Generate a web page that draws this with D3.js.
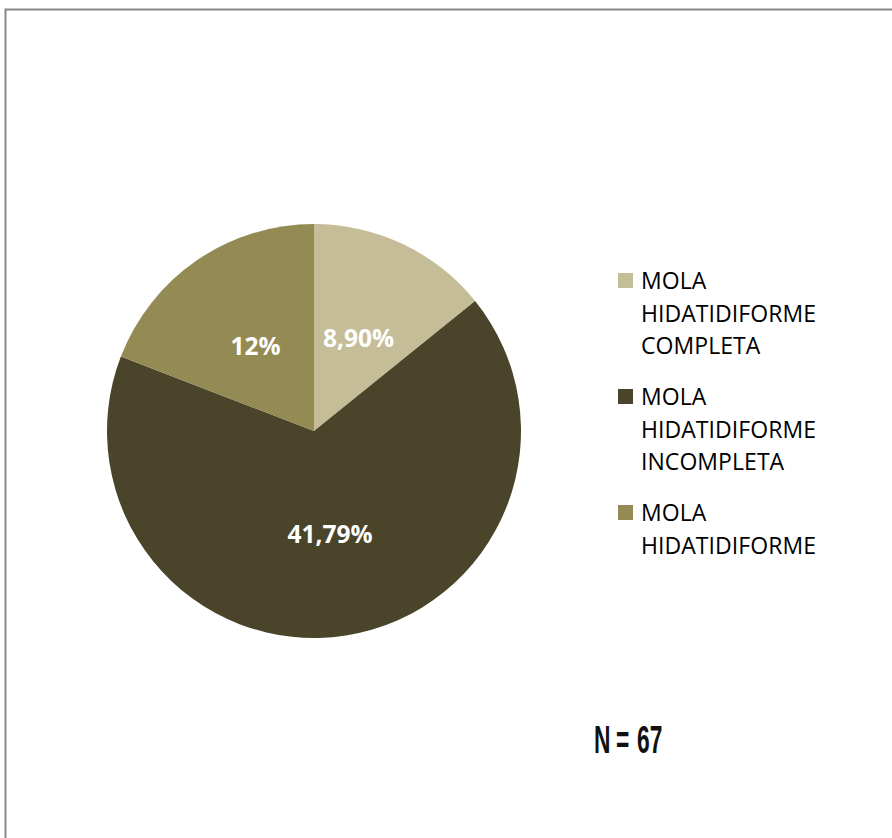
<!DOCTYPE html>
<html>
<head>
<meta charset="utf-8">
<script src="https://cdn.jsdelivr.net/npm/d3@7"></script>
<style>
  html, body { margin: 0; padding: 0; background: #fff; }
  svg { display: block; }
</style>
</head>
<body>
<svg id="chart" width="892" height="838"></svg>
<script>
// Tipos de mola hidatidiforme
const categories = [
  "MOLA HIDATIDIFORME COMPLETA",
  "MOLA HIDATIDIFORME INCOMPLETA",
  "MOLA HIDATIDIFORME"
];
const values = [8.90, 41.79, 12];
const valueLabels = ["8,90%", "41,79%", "12%"];
const legendLines = [
  ["MOLA", "HIDATIDIFORME", "COMPLETA"],
  ["MOLA", "HIDATIDIFORME", "INCOMPLETA"],
  ["MOLA", "HIDATIDIFORME"]
];
const colors = ["#C4BD97", "#4A442A", "#948A54"];
const noteParts = ["N", "=", "67"];

const svg = d3.select("#chart");

// chart frame
svg.append("path")
  .attr("d", "M5.5,838 V9.5 H892")
  .attr("fill", "none")
  .attr("stroke", "#878787")
  .attr("stroke-width", 2);

const cx = 314, cy = 431, r = 207;

const pie = d3.pie().sort(null).value(d => d);
const arc = d3.arc().innerRadius(0).outerRadius(r);

const g = svg.append("g").attr("transform", `translate(${cx},${cy})`);
const arcs = pie(values);

g.selectAll("path.slice")
  .data(arcs)
  .join("path")
  .attr("class", "slice")
  .attr("d", arc)
  .attr("fill", (d, i) => colors[i]);

g.selectAll("text.val")
  .data(arcs)
  .join("text")
  .attr("class", "val")
  .attr("transform", d => `translate(${arc.centroid(d)})`)
  .attr("text-anchor", "middle")
  .attr("dominant-baseline", "central")
  .attr("font-family", "'Open Sans', Lato, sans-serif")
  .attr("font-weight", "bold")
  .attr("font-size", 24.5)
  .attr("fill", "#fff")
  .text((d, i) => valueLabels[i]);

// legend
const legendFont = "'Open Sans', Lato, sans-serif";
const legendSize = 23;
// fit the widest word to its column
const probe = svg.append("text")
  .attr("font-family", legendFont)
  .attr("font-size", legendSize)
  .text("HIDATIDIFORME");
const probeW = probe.node().getComputedTextLength();
probe.remove();
const spacing = (175 - probeW) / 13;

const legend = svg.append("g").attr("transform", "translate(618,0)");
const legendBaselines = [289, 405, 521];
const lineGap = 32.5;
categories.forEach((c, i) => {
  const item = legend.append("g").attr("transform", `translate(0,${legendBaselines[i]})`);
  item.append("rect")
    .attr("x", 0).attr("y", -16)
    .attr("width", 15).attr("height", 15)
    .attr("fill", colors[i]);
  legendLines[i].forEach((ln, j) => {
    item.append("text")
      .attr("x", 23)
      .attr("y", j * lineGap)
      .attr("font-family", legendFont)
      .attr("font-size", legendSize)
      .attr("letter-spacing", spacing)
      .attr("fill", "#000")
      .text(ln);
  });
});

// sample size, set in a condensed face
const sx = 0.6;
const noteX = [594, 616, 637];
svg.append("text")
  .attr("transform", `translate(0,753) scale(${sx},1)`)
  .attr("font-family", "'Liberation Sans', Arial, sans-serif")
  .attr("font-weight", "bold")
  .attr("font-size", 38)
  .attr("fill", "#111")
  .selectAll("tspan")
  .data(noteParts)
  .join("tspan")
  .attr("x", (d, i) => noteX[i] / sx)
  .text(d => d);
</script>
</body>
</html>
